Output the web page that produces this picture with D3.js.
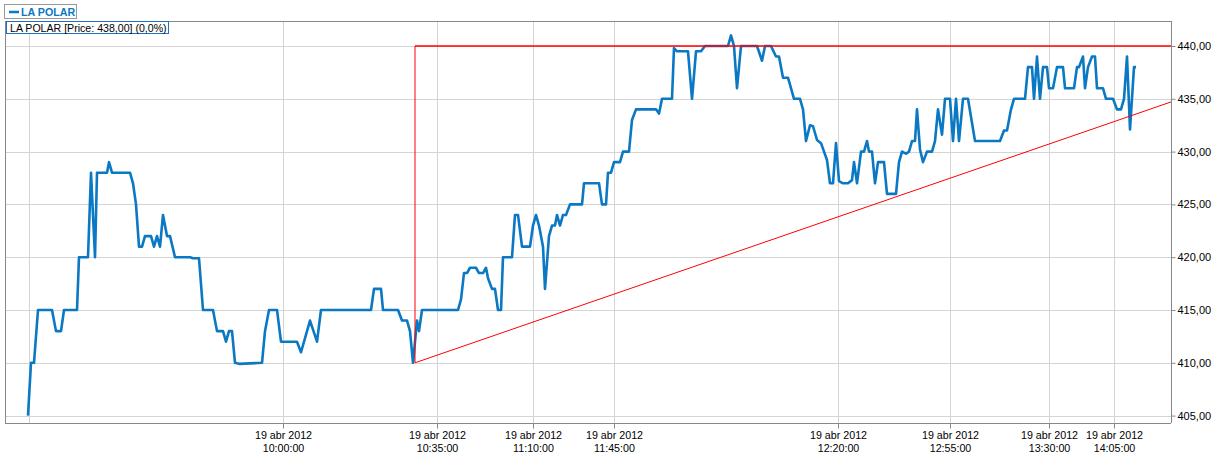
<!DOCTYPE html>
<html>
<head>
<meta charset="utf-8">
<script src="https://cdn.jsdelivr.net/npm/d3@7"></script>
<style>
  html, body { margin: 0; padding: 0; background: #fff; }
  svg { display: block; font-family: "Liberation Sans", Arial, sans-serif; }
</style>
</head>
<body>
<svg id="chart" width="1216" height="454"></svg>
<script>
// ---- data (trade sequence index vs price) ----
const seriesName = "LA POLAR";
const lastPrice = "438,00";
const lastChange = "0,0%";
const tradeIndex = [0,1.5,3,5,12,14,16.5,18,24.5,25.5,30,31.5,33.5,34.5,39.5,40.5,42,51,52.5,54,55.5,57,58.5,61.5,63,64.5,66,67.5,69.5,71,73.5,81,82.5,85.5,87.5,92.5,94.5,97.5,99,100.5,102,103.5,105.5,117,118.5,120.5,124.5,126.5,134.5,136.5,141,144.5,146.5,148,171.5,173,176.5,177.5,185,187,189.5,191,192.5,194.5,195.5,197,215,216.5,218,219.5,221,224,225.5,227.5,229,230,232,233.5,235,236.5,237.5,242,243.5,245,247,251,252.5,254,255.5,257.5,258.5,260.5,262,263.5,264.5,266,267.5,269,271,277,278,285.5,287,289,290,291.5,293,296,297.5,300.5,302,304,314,315.5,317,322,323,324.5,330,332,334,336.5,338.5,350,351.5,353,354.5,356.5,364.5,367,368.5,371.5,374,375.5,377.5,380,383,386,387.5,389,391,392.5,394.5,396.5,399.5,401,402.5,404,405.5,407.5,410,412,413,414.5,416.5,418,419.5,420.5,422,423.5,425,428,429.5,434,435.5,437,439,440.5,442,443.5,444.5,446,447.5,449.5,452,453.5,455,457,458.5,461,462.5,464,465.5,467.5,470,473.5,486,488,489.5,491.5,493,498.5,500,502,503,504.5,506,507.5,509.5,510.5,512.5,514.5,517.5,518.5,523,524.5,525.5,527.5,528.5,530,532,533.5,534.5,537.5,539,542.5,544.5,546.5,548,549.5,551,553,554];
const prices = [405,410,410,415,415,413,413,415,415,420,420,428,420,428,428,429,428,428,427,425,421,421,422,422,421,422,421,424,422,422,420,420,419.9,419.9,415,415,413,413,412,413,413,410,409.9,410,413,415,415,412,412,411,414,412,415,415,415,417,417,415,415,414,414,413,410,414,413,415,415,416,418.5,418.5,419,419,418.5,418.5,419,418,417,417,415,415,420,420,424,424,421,421,423,424,423,421,417,422,423,423,424,423,424,424,425,425,427,427,425,425,428,428,429,429,430,430,433,434,434,433.6,435,435,439.8,439.5,439.5,435,439.5,439.5,440,440,441,440,436,440,440,438.6,440,440,439,439,437,437,435,435,434,431,432.5,432.4,431.1,430.8,429.2,427,427,430.8,427.2,427,427,427.3,429,427,430,430,431,430,430,427,429,429,426,426,429,430,429.8,430,431,431,434,430.2,429,430,430,431,434,431.6,435,435,431,435,431,435,435,431,431,432,432,434,435,435,438,438,435,439,435,438,438,436,436,438,438,436,436,438,438,439,436,438,439,439,436,436,435,435,434,434,435,439,432.1,438,438];
const yTicks = [405,410,415,420,425,430,435,440];
const xGridIndex = [0.5];
const xTickIndex = [127.5,204.5,252.5,293,405,461,510.5,543];
const xTickDates = ["19 abr 2012","19 abr 2012","19 abr 2012","19 abr 2012","19 abr 2012","19 abr 2012","19 abr 2012","19 abr 2012"];
const xTickTimes = ["10:00:00","10:35:00","11:10:00","11:45:00","12:20:00","12:55:00","13:30:00","14:05:00"];
// drawn trend lines (index, price)
const resistanceLine = [[193.5,440],[571.5,440]];
const verticalLine = [[193.5,440],[193.5,410]];
const supportLine = [[193.5,410],[571.5,434.7]];

// ---- layout ----
const frame = {left: 5, top: 21, right: 1171, bottom: 423};
const x = d3.scaleLinear().domain([0, 571.5]).range([28, frame.right]);
const y = d3.scaleLinear().domain([405, 440]).range([415.6, 46]);

const svg = d3.select("#chart");
const gridColor = "#d4d4d4";
const axisColor = "#888888";
const blue = "#0a78c3";

// horizontal grid
svg.append("g").selectAll("line").data(yTicks).join("line")
  .attr("x1", frame.left).attr("x2", frame.right)
  .attr("y1", d => Math.round(y(d)) + 0.5).attr("y2", d => Math.round(y(d)) + 0.5)
  .attr("stroke", gridColor).attr("stroke-width", 1);

// vertical grid
svg.append("g").selectAll("line").data(xGridIndex.concat(xTickIndex)).join("line")
  .attr("x1", d => Math.round(x(d)) + 0.5).attr("x2", d => Math.round(x(d)) + 0.5)
  .attr("y1", frame.top).attr("y2", frame.bottom)
  .attr("stroke", gridColor).attr("stroke-width", 1);

// frame
svg.append("line").attr("x1", frame.left + 0.5).attr("x2", frame.left + 0.5)
  .attr("y1", frame.top).attr("y2", frame.bottom).attr("stroke", axisColor);
svg.append("line").attr("x1", frame.left).attr("x2", frame.right)
  .attr("y1", frame.top + 0.5).attr("y2", frame.top + 0.5).attr("stroke", axisColor);

// right axis
const yAxis = d3.axisRight(y).tickValues(yTicks).tickSize(4).tickPadding(2)
  .tickFormat(d => d3.format(".2f")(d).replace(".", ","));
const gy = svg.append("g").attr("transform", `translate(${frame.right + 0.5},0)`).call(yAxis);
gy.select(".domain").attr("d", `M0,${frame.top}V${frame.bottom}`).attr("stroke", axisColor);
gy.selectAll(".tick line").attr("stroke", axisColor);
gy.selectAll(".tick text").attr("font-size", 11).attr("fill", "#000")
  .attr("font-family", "Liberation Sans, Arial, sans-serif");

// bottom axis
const xAxis = d3.axisBottom(x).tickValues(xTickIndex).tickSize(5).tickFormat("");
const gx = svg.append("g").attr("transform", `translate(0,${frame.bottom + 0.5})`).call(xAxis);
gx.select(".domain").attr("d", `M${frame.left},0H${frame.right}`).attr("stroke", axisColor);
gx.selectAll(".tick line").attr("stroke", axisColor);
gx.selectAll(".tick").each(function(d, i) {
  const t = d3.select(this);
  t.select("text").remove();
  const txt = t.append("text").attr("fill", "#000").attr("font-size", 10.7)
    .attr("text-anchor", "middle");
  txt.append("tspan").attr("x", 0).attr("y", 15).text(xTickDates[i]);
  txt.append("tspan").attr("x", 0).attr("y", 28).text(xTickTimes[i]);
});

// price line
const data = tradeIndex.map((t, i) => ({t, p: prices[i]}));
svg.append("path").datum(data)
  .attr("fill", "none").attr("stroke", blue).attr("stroke-width", 2.6)
  .attr("stroke-linejoin", "round")
  .attr("d", d3.line().x(d => x(d.t)).y(d => y(d.p)));

// trend lines
const lg = d3.line().x(d => x(d[0])).y(d => y(d[1]));
[resistanceLine, verticalLine, supportLine].forEach((ln, i) => {
  svg.append("path").datum(ln).attr("fill", "none").attr("stroke", "#ff0000")
    .attr("stroke-width", i === 0 ? 1.3 : 1).attr("d", lg);
});

// legend box
const lgd = svg.append("g");
lgd.append("rect").attr("x", 4.5).attr("y", 4.5).attr("width", 72).attr("height", 14)
  .attr("fill", "#fff").attr("stroke", "#999");
lgd.append("line").attr("x1", 9).attr("x2", 19).attr("y1", 12).attr("y2", 12)
  .attr("stroke", blue).attr("stroke-width", 2.5);
lgd.append("text").attr("x", 21).attr("y", 16).attr("font-size", 10.7).attr("font-weight", "bold")
  .attr("fill", blue).text(seriesName);

// info box
const info = svg.append("g");
info.append("rect").attr("x", 6.5).attr("y", 21.5).attr("width", 162).attr("height", 12)
  .attr("fill", "#fff").attr("stroke", "#1f6fc6");
info.append("text").attr("x", 10).attr("y", 31.5).attr("font-size", 10.6).attr("fill", "#000")
  .text(`${seriesName} [Price: ${lastPrice}] (${lastChange})`);
</script>
</body>
</html>
